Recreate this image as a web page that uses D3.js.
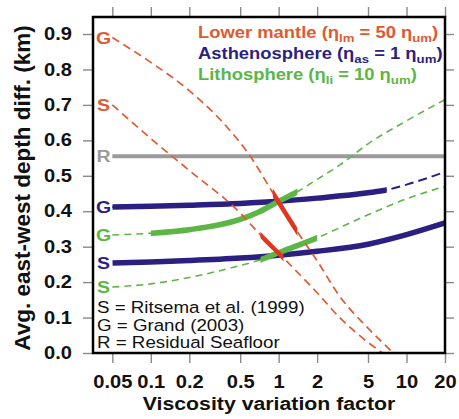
<!DOCTYPE html>
<html><head><meta charset="utf-8">
<script src="https://cdn.jsdelivr.net/npm/d3@7/dist/d3.min.js"></script>
<style>
html,body{margin:0;padding:0;background:#fff;}
svg{display:block;font-family:"Liberation Sans",Arial,Helvetica,sans-serif;}
</style></head>
<body><svg id="chart" width="459" height="419"></svg>
<script>
// ---------- data ----------
const xTicks = [0.05, 0.1, 0.2, 0.5, 1, 2, 5, 10, 20];
const xTickLabels = ["0.05", "0.1", "0.2", "0.5", "1", "2", "5", "10", "20"];
const yTicks = [0, 0.1, 0.2, 0.3, 0.4, 0.5, 0.6, 0.7, 0.8, 0.9];
const yTickLabels = ["0.0", "0.1", "0.2", "0.3", "0.4", "0.5", "0.6", "0.7", "0.8", "0.9"];

// Lower mantle (eta_lm = 50 eta_um)
const lmG_x = [0.05, 0.1, 0.2, 0.4, 0.6, 0.9, 1.4, 2, 3, 5, 7.9];
const lmG_y = [0.89, 0.82, 0.74, 0.635, 0.555, 0.452, 0.342, 0.26, 0.16, 0.07, 0.0];
const lmG_solid = [0.9, 1.4];
const lmS_x = [0.05, 0.1, 0.2, 0.5, 0.72, 1.09, 2, 3, 5, 6.5];
const lmS_y = [0.70, 0.605, 0.515, 0.395, 0.333, 0.268, 0.17, 0.10, 0.03, 0.0];
const lmS_solid = [0.72, 1.09];

// Asthenosphere (eta_as = 1 eta_um)
const asG_x = [0.05, 0.1, 0.2, 0.5, 1, 2, 5, 7, 10, 20];
const asG_y = [0.412, 0.414, 0.417, 0.422, 0.428, 0.437, 0.452, 0.46, 0.475, 0.511];
const asG_solid = [0.05, 7];
const asS_x = [0.05, 0.1, 0.2, 0.5, 1, 2, 5, 10, 20];
const asS_y = [0.254, 0.257, 0.261, 0.268, 0.276, 0.287, 0.307, 0.334, 0.367];
const asS_solid = [0.05, 20];

// Lithosphere (eta_li = 10 eta_um)
const liG_x = [0.05, 0.1, 0.2, 0.5, 0.7, 1, 1.4, 2, 3, 5, 10, 20];
const liG_y = [0.333, 0.338, 0.348, 0.377, 0.398, 0.428, 0.455, 0.49, 0.53, 0.59, 0.655, 0.715];
const liG_solid = [0.1, 1.4];
const liS_x = [0.05, 0.1, 0.2, 0.5, 0.72, 1, 2, 5, 10, 20];
const liS_y = [0.186, 0.195, 0.213, 0.247, 0.263, 0.283, 0.325, 0.39, 0.435, 0.47];
const liS_solid = [0.72, 2];

// Residual seafloor
const R_x = [0.05, 20];
const R_y = [0.555, 0.555];

const notes = ["S = Ritsema et al. (1999)", "G = Grand (2003)", "R = Residual Seafloor"];

// ---------- layout ----------
const W = 459, H = 419;
const L = 93, R = 445, T = 17, B = 353;
const SX = 1.15; // horizontal stretch of glyphs in the original
const C = {red: "#e05a30", redSolid: "#e0361f", navy: "#2c1f82", green: "#5cb646", gray: "#9a9a9a", tick: "#8a8a8a"};

const svg = d3.select("#chart");
const x = d3.scaleLog().domain([0.0353, 20]).range([L, R]);
const y = d3.scaleLinear().domain([0, 0.948]).range([B, T]);

// ticks
function styleAxis(g) {
  g.select(".domain").remove();
  g.selectAll(".tick line").attr("stroke", C.tick).attr("stroke-width", 1.4);
}
svg.append("g").attr("transform", `translate(0,${B})`)
  .call(d3.axisBottom(x).tickValues(xTicks).tickSize(10).tickPadding(13).tickFormat((d, i) => xTickLabels[i]))
  .call(styleAxis)
  .call(g => g.selectAll("text").attr("fill", "#111").attr("font-size", 17.5).attr("font-weight", "bold")
    .attr("font-family", "Liberation Sans, Arial, sans-serif").attr("transform", `scale(${SX},1)`));
svg.append("g").attr("transform", `translate(0,${T})`)
  .call(d3.axisTop(x).tickValues(xTicks).tickSize(10).tickFormat(""))
  .call(styleAxis);
svg.append("g").attr("transform", `translate(${L},0)`)
  .call(d3.axisLeft(y).tickValues(yTicks).tickSize(10).tickPadding(8.3).tickFormat((d, i) => yTickLabels[i]))
  .call(styleAxis)
  .call(g => g.selectAll("text").attr("fill", "#111").attr("font-size", 17.5).attr("font-weight", "bold")
    .attr("font-family", "Liberation Sans, Arial, sans-serif").attr("transform", `scale(${SX},1)`));
svg.append("g").attr("transform", `translate(${R},0)`)
  .call(d3.axisRight(y).tickValues(yTicks).tickSize(9).tickFormat(""))
  .call(styleAxis);

// clip paths
const defs = svg.append("defs");
defs.append("clipPath").attr("id", "plot").append("rect")
  .attr("x", L).attr("y", T).attr("width", R - L).attr("height", B - T);
let clipId = 0;
function clipX(range) {
  const id = "c" + (clipId++);
  defs.append("clipPath").attr("id", id).append("rect")
    .attr("x", x(range[0])).attr("y", 0).attr("width", x(range[1]) - x(range[0])).attr("height", H);
  return id;
}

const plot = svg.append("g").attr("clip-path", "url(#plot)");
const line = d3.line().x(d => x(d[0])).y(d => y(d[1])).curve(d3.curveMonotoneX);
const zip = (xs, ys) => xs.map((v, i) => [v, ys[i]]);

function dashed(xs, ys, color, dash, w) {
  plot.append("path").attr("d", line(zip(xs, ys))).attr("fill", "none")
    .attr("stroke", color).attr("stroke-width", w || 1.5).attr("stroke-dasharray", dash);
}
function solid(xs, ys, range, color, w) {
  plot.append("g").attr("clip-path", `url(#${clipX(range)})`)
    .append("path").attr("d", line(zip(xs, ys))).attr("fill", "none")
    .attr("stroke", color).attr("stroke-width", w);
}

// residual seafloor
plot.append("path").attr("d", line(zip(R_x, R_y))).attr("fill", "none").attr("stroke", C.gray).attr("stroke-width", 4);

// lithosphere
dashed(liG_x, liG_y, C.green, "7,5", 1.6);
dashed(liS_x, liS_y, C.green, "7,5", 1.6);
// asthenosphere
dashed(asG_x, asG_y, C.navy, "9,5", 2);
solid(asG_x, asG_y, asG_solid, C.navy, 5.5);
solid(asS_x, asS_y, asS_solid, C.navy, 5.5);
solid(liG_x, liG_y, liG_solid, C.green, 5.5);
solid(liS_x, liS_y, liS_solid, C.green, 5.5);
// lower mantle
dashed(lmG_x, lmG_y, C.red, "8,5", 1.7);
dashed(lmS_x, lmS_y, C.red, "8,5", 1.7);
solid(lmG_x, lmG_y, lmG_solid, C.redSolid, 4.5);
solid(lmS_x, lmS_y, lmS_solid, C.redSolid, 4.5);

// frame
svg.append("rect").attr("x", L).attr("y", T).attr("width", R - L).attr("height", B - T)
  .attr("fill", "none").attr("stroke", "#000").attr("stroke-width", 2.5);

// stretched text helper
function stext(px, py, str, opts) {
  const g = svg.append("g").attr("transform", `translate(${px},${py}) scale(${opts.sx || SX},1)`);
  const t = g.append("text").attr("x", 0).attr("y", 0)
    .attr("font-size", opts.size).attr("font-weight", opts.weight || "bold")
    .attr("fill", opts.color || "#111").attr("text-anchor", opts.anchor || "start");
  if (opts.dy) t.attr("dy", opts.dy);
  if (str !== null) t.text(str);
  return t;
}

// curve end letters
const letters = [
  ["G", lmG_y[0], C.red], ["S", lmS_y[0], C.red], ["R", R_y[0], C.gray],
  ["G", asG_y[0], C.navy], ["G", liG_y[0], C.green], ["S", asS_y[0], C.navy], ["S", liS_y[0], C.green]
];
letters.forEach(([s, v, c]) => stext(103.5, y(v), s, {size: 17, color: c, anchor: "middle", dy: "0.36em"}));

// legend
function legendRow(py, color, name, sub1, val, sub2) {
  const t = stext(198, py, null, {size: 16, color: color});
  t.append("tspan").text(name + " (\u03B7");
  t.append("tspan").attr("font-size", 11.5).attr("dy", 4).text(sub1);
  t.append("tspan").attr("dy", -4).text(" = " + val + " \u03B7");
  t.append("tspan").attr("font-size", 11.5).attr("dy", 4).text(sub2);
  t.append("tspan").attr("dy", -4).text(")");
}
legendRow(37.5, C.red, "Lower mantle", "lm", "50", "um");
legendRow(58.5, C.navy, "Asthenosphere", "as", "1", "um");
legendRow(79.5, C.green, "Lithosphere", "li", "10", "um");

// notes
notes.forEach((s, i) => stext(97, 313 + i * 17.5, s, {size: 16.3, weight: "normal", color: "#111"}));

// axis titles
stext(269, 410, "Viscosity variation factor", {size: 18.5, anchor: "middle"});
svg.append("text").attr("transform", `translate(30,${188}) rotate(-90)`)
  .attr("text-anchor", "middle").attr("font-size", 22.5).attr("font-weight", "bold").attr("fill", "#111")
  .text("Avg. east-west depth diff. (km)");
</script></body></html>
